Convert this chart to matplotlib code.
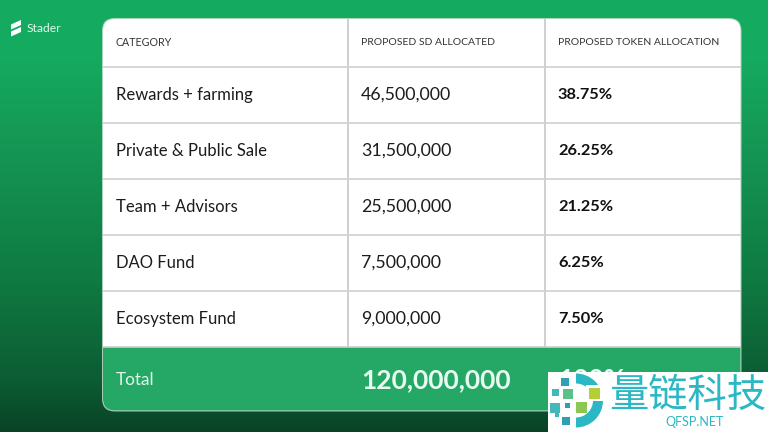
import numpy as np
import matplotlib
matplotlib.use("Agg")
import matplotlib.pyplot as plt
from matplotlib.patches import FancyBboxPatch, Rectangle, Wedge, Polygon

categories = ["Rewards + farming", "Private & Public Sale", "Team + Advisors", "DAO Fund", "Ecosystem Fund"]
allocated = ["46,500,000", "31,500,000", "25,500,000", "7,500,000", "9,000,000"]
shares = ["38.75%", "26.25%", "21.25%", "6.25%", "7.50%"]
headers = ["CATEGORY", "PROPOSED SD ALLOCATED", "PROPOSED TOKEN ALLOCATION"]
total_row = ["Total", "120,000,000", "100%"]

W, H = 768, 432
FONT = ["Lato", "DejaVu Sans"]
fig = plt.figure(figsize=(W/100, H/100), dpi=100)
ax = fig.add_axes([0, 0, 1, 1])
ax.set_xlim(0, W); ax.set_ylim(H, 0); ax.axis("off")

# background gradient
stops_y = [0, 60, 130, 280, 380, 432]
stops_c = np.array([[20,172,97],[20,170,95],[22,154,86],[15,122,66],[12,92,51],[9,66,37]])/255
ys = np.arange(H)
grad = np.stack([np.interp(ys, stops_y, stops_c[:, i]) for i in range(3)], axis=1)[:, None, :]
ax.imshow(grad, extent=[0, W, H, 0], aspect="auto", zorder=0)

# logo
ax.add_patch(Polygon([(11,24.5),(21,20),(21,25),(11,29.5)], closed=True, fc="white", ec="none", zorder=2))
ax.add_patch(Polygon([(11,31.5),(21,27),(21,32),(11,36.5)], closed=True, fc="white", ec="none", zorder=2))
ax.text(26.5, 28, "Stader", color="#e6f6ec", fontsize=8.7, family=FONT, va="center", ha="left", zorder=2)

# table card
L, R, T, B = 103, 740.5, 19, 410.5
LINE = "#cfcfcf"
GREEN = "#25a866"
shadow = FancyBboxPatch((L-1, T-1), R-L+2, B-T+2, boxstyle="round,pad=0,rounding_size=13",
                        fc="#cfe3d6", ec="none", alpha=.8, zorder=2)
ax.add_patch(shadow)
card = FancyBboxPatch((L, T), R-L, B-T, boxstyle="round,pad=0,rounding_size=12", fc="white", ec="none", zorder=3)
ax.add_patch(card)
clip = FancyBboxPatch((L, T), R-L, B-T, boxstyle="round,pad=0,rounding_size=12", fc="none", ec="none",
                      transform=ax.transData)
ax.add_patch(clip)

head_bottom, row_h = 67, 56
n = len(categories)
total_top = head_bottom + n*row_h
foot = Rectangle((L, total_top), R-L, B-total_top, fc=GREEN, ec="none", zorder=4)
ax.add_patch(foot); foot.set_clip_path(clip)

col_x = [348, 545]
for x in col_x:
    ax.plot([x, x], [T, total_top], color=LINE, lw=1.4, zorder=5, solid_capstyle="butt")
for i in range(n+1):
    y = head_bottom + i*row_h
    ax.plot([L, R], [y, y], color=LINE, lw=1.2, zorder=5, solid_capstyle="butt")

text_x = [116, 361, 558]
for x, s, fs in zip(text_x, headers, [7.7, 7.5, 7.5]):
    ax.text(x, 42.5, s, color="#333333", fontsize=fs, family=FONT, va="center", ha="left", zorder=6)

size_cat = 12.0
for i in range(n):
    y = head_bottom + (i+.5)*row_h
    ax.text(text_x[0], y, categories[i], color="#1c1c1c", fontsize=size_cat, family=FONT, va="center", ha="left", zorder=6)
    ax.text(text_x[1], y, allocated[i], color="#1c1c1c", fontsize=12.8, family=FONT, va="center", ha="left", zorder=6)
    ax.text(text_x[2], y, shares[i], color="#111111", fontsize=11.8, family=FONT, weight="bold", va="center", ha="left", zorder=6)

yt = (total_top + B)/2 + 1
ax.text(text_x[0], yt, total_row[0], color="#e0f6ea", fontsize=12.4, family=FONT, va="center", ha="left", zorder=6)
ax.text(text_x[1], yt, total_row[1], color="#e8fbf1", fontsize=19, family=FONT, weight="bold", va="center", ha="left", zorder=6)
ax.text(text_x[2], yt, total_row[2], color="#e8fbf1", fontsize=19, family=FONT, weight="bold", va="center", ha="left", zorder=6)

# watermark
ax.add_patch(Rectangle((548, 372), 220, 60, fc="white", ec="none", zorder=7))
TEAL = "#2bb8c4"
ax.add_patch(Wedge((576, 400.5), 27, -90, 90, width=10, fc=TEAL, ec="none", zorder=8))
ax.add_patch(Rectangle((586, 385), 17, 16, fc="white", ec="none", zorder=8.5))
for (x, y, s, c) in [(561,378,8,"#2f9fb5"),(552,389,7,"#42b8b8"),(563,389,10,"#5cc08a"),(589,388,11,"#b4cf35"),
                     (565,403,5,"#2f9fb5"),(576,402,11,"#8cc653"),(550,403,10,"#42b8b8"),(555,413,4,"#42b8b8"),(562,417,8,"#2f9fb5")]:
    ax.add_patch(Rectangle((x, y), s, s, fc=c, ec="none", zorder=9))
ax.text(688, 396, "量链科技", color=TEAL, fontsize=28.3, family=["Noto Sans CJK SC", "DejaVu Sans"],
        va="center", ha="center", zorder=8)
ax.text(694, 421.5, "QFSP.NET", color=TEAL, fontsize=9, family=FONT, va="center", ha="center", zorder=8)

fig.savefig("out.png", dpi=100)
